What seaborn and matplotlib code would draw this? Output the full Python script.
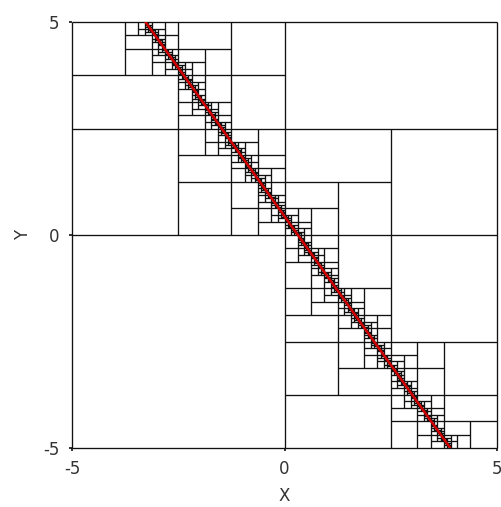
import matplotlib
matplotlib.use("Agg")
import matplotlib.pyplot as plt
from matplotlib.collections import LineCollection
import seaborn as sns

# linea (extremos dentro del dominio)
linea_x = [-3.27, 3.9]
linea_y = [5.0, -5.0]
dominio_x = [-5.0, 5.0]
dominio_y = [-5.0, 5.0]
profundidad_max = 16
ticks = [-5, 0, 5]

# coeficientes de la recta a*x + b*y + c = 0
a = linea_y[1] - linea_y[0]
b = -(linea_x[1] - linea_x[0])
c = -(a * linea_x[0] + b * linea_y[0])


def f(x, y):
    return a * x + b * y + c


def cruza(x0, x1, y0, y1):
    vals = [f(x0, y0), f(x1, y0), f(x0, y1), f(x1, y1)]
    return min(vals) < 0 < max(vals)


def subdividir(x0, x1, y0, y1, d, segs):
    if d >= profundidad_max or not cruza(x0, x1, y0, y1):
        return
    if d % 2 == 0:
        ym = (y0 + y1) / 2
        segs.append([(x0, ym), (x1, ym)])
        subdividir(x0, x1, y0, ym, d + 1, segs)
        subdividir(x0, x1, ym, y1, d + 1, segs)
    else:
        xm = (x0 + x1) / 2
        segs.append([(xm, y0), (xm, y1)])
        subdividir(x0, xm, y0, y1, d + 1, segs)
        subdividir(xm, x1, y0, y1, d + 1, segs)


x0, x1 = dominio_x
y0, y1 = dominio_y
segmentos = [[(x0, y0), (x1, y0)], [(x1, y0), (x1, y1)],
             [(x1, y1), (x0, y1)], [(x0, y1), (x0, y0)]]
subdividir(x0, x1, y0, y1, 0, segmentos)

sns.set_style("white")
plt.rcParams["font.family"] = ["DejaVu Sans"]
plt.rcParams["axes.unicode_minus"] = False

fig = plt.figure(figsize=(5.02, 5.07), dpi=100)
ax = fig.add_axes([72 / 502, 59 / 507, 425 / 502, 426 / 507])

lc = LineCollection(segmentos, colors="#111111", linewidths=0.95, clip_on=False, zorder=2)
ax.add_collection(lc)
sns.lineplot(x=linea_x, y=linea_y, sort=False, color="#d00000", linewidth=1.8, ax=ax, zorder=3)

ax.set_xlim(dominio_x)
ax.set_ylim(dominio_y)
ax.set_xticks(ticks)
ax.set_yticks(ticks)
for s in ax.spines.values():
    s.set_visible(False)
ax.tick_params(bottom=True, left=True, length=2, width=1.2, direction="out",
               labelsize=12, labelcolor="#333333", colors="#111111", pad=7)
ax.set_xlabel("X", fontsize=12, color="#333333", labelpad=6)
ax.set_ylabel("Y", fontsize=12, color="#333333", labelpad=8)

fig.savefig("out.png", dpi=100)
